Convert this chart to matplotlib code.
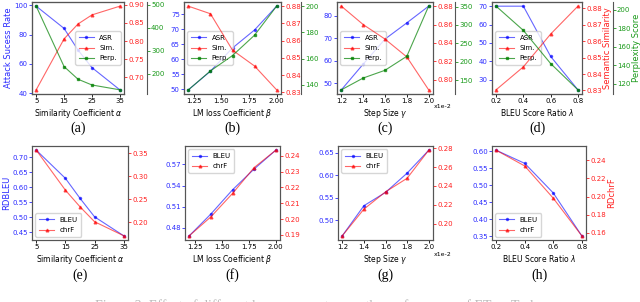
import matplotlib
matplotlib.use("Agg")
import matplotlib.pyplot as plt
from matplotlib.ticker import MultipleLocator

# data
alpha_x = [5, 15, 20, 25, 35]
beta_x = [1.2, 1.4, 1.6, 1.8, 2.0]
gamma_x = [1.2, 1.4, 1.6, 1.8, 2.0]
lam_x = [0.2, 0.4, 0.6, 0.8]

# top row: ASR / Sim. / Perp.
asr_a = [99.5, 84.3, 69.5, 57.5, 42.3]
sim_a = [0.666, 0.806, 0.847, 0.872, 0.896]
perp_a = [494, 232, 177, 152, 131]

asr_b = [49.8, 56.0, 63.7, 69.7, 77.6]
sim_b = [0.880, 0.8756, 0.8545, 0.8453, 0.8315]
perp_b = [136.3, 150.7, 162.4, 177.9, 200.0]

asr_c = [47.1, 58.5, 69.6, 76.8, 84.2]
sim_c = [0.880, 0.860, 0.8442, 0.8248, 0.789]
perp_c = [124, 156, 177, 215, 351]

asr_d = [70.0, 70.0, 42.6, 24.4]
sim_d = [0.8304, 0.8444, 0.8644, 0.8814]
perp_d = [203.6, 177.5, 141.8, 113.5]

# bottom row: BLEU / chrF
bleu_e = [0.7237, 0.630, 0.5637, 0.502, 0.439]
chrf_e = [0.357, 0.270, 0.234, 0.2015, 0.171]

bleu_f = [0.469, 0.4998, 0.534, 0.5634, 0.590]
chrf_f = [0.1894, 0.2014, 0.2162, 0.2326, 0.2436]

bleu_g = [0.466, 0.5324, 0.5618, 0.6044, 0.655]
chrf_g = [0.1872, 0.2154, 0.2337, 0.2481, 0.2778]

bleu_h = [0.6036, 0.565, 0.478, 0.352]
chrf_h = [0.251, 0.2337, 0.1983, 0.157]

W, H = 640, 302
fig = plt.figure(figsize=(W / 100, H / 100), dpi=100)

BLUE = '#2b2bff'
RED = '#ff2020'
GREEN = '#1a9a1a'
TICK = 5
LAB = 5.5


def px_axes(x0, x1, y0, y1):
    return fig.add_axes([x0 / W, 1 - y1 / H, (x1 - x0) / W, (y1 - y0) / H])


def style(ax, color, step):
    ax.tick_params(axis='y', colors=color, labelsize=TICK, length=2, width=0.6, pad=1)
    ax.yaxis.set_major_locator(MultipleLocator(step))
    for s in ax.spines.values():
        s.set_linewidth(0.8)
        s.set_color('#555555')


def top_panel(box, x, asr, sim, perp, xticks, xlabel, steps, offset, cap, legloc,
              ylab_left=None, ylab_right=False):
    ax = px_axes(*box)
    ax.plot(x, asr, color='b', alpha=0.6, marker='.', ms=3, lw=0.8, label='ASR')
    ax2 = ax.twinx()
    ax2.plot(x, sim, color='r', alpha=0.6, marker='^', ms=2, lw=0.8, label='Sim.')
    ax3 = ax.twinx()
    ax3.spines['right'].set_position(('axes', offset))
    ax3.plot(x, perp, color='g', alpha=0.7, marker='s', ms=1.5, lw=0.8, label='Perp.')
    style(ax, BLUE, steps[0])
    style(ax2, RED, steps[1])
    style(ax3, GREEN, steps[2])
    ax.set_xticks(xticks)
    ax.tick_params(axis='x', labelsize=TICK, length=2, width=0.6, pad=1)
    ax.set_xlabel(xlabel, fontsize=LAB, labelpad=2)
    if ylab_left:
        ax.set_ylabel(ylab_left, color=BLUE, fontsize=6, labelpad=1)
    if ylab_right:
        ax2.set_ylabel('Semantic Similarity', color=RED, fontsize=6, labelpad=1)
        ax3.set_ylabel('Perplexity Score', color=GREEN, fontsize=6, labelpad=1)
    lines = ax.get_lines() + ax2.get_lines() + ax3.get_lines()
    ax.legend(lines, [l.get_label() for l in lines], loc=legloc, fontsize=5,
              labelspacing=0.6, handlelength=2.2, borderpad=0.5)
    fig.text((box[0] + box[1]) / 2 / W, 1 - 128 / H, cap, ha='center', va='center',
             family='Liberation Serif', fontsize=10)
    return ax


def bottom_panel(box, x, bleu, chrf, xticks, xlabel, steps, cap, legloc,
                 ylab_left=None, ylab_right=None):
    ax = px_axes(*box)
    ax.plot(x, bleu, color='b', alpha=0.6, marker='.', ms=3, lw=0.8, label='BLEU')
    ax2 = ax.twinx()
    ax2.plot(x, chrf, color='r', alpha=0.6, marker='^', ms=2, lw=0.8, label='chrF')
    style(ax, BLUE, steps[0])
    style(ax2, RED, steps[1])
    ax.set_xticks(xticks)
    ax.tick_params(axis='x', labelsize=TICK, length=2, width=0.6, pad=1)
    ax.set_xlabel(xlabel, fontsize=LAB, labelpad=2)
    if ylab_left:
        ax.set_ylabel(ylab_left, color=BLUE, fontsize=6, labelpad=1)
    if ylab_right:
        ax2.set_ylabel(ylab_right, color=RED, fontsize=6, labelpad=1)
    lines = ax.get_lines() + ax2.get_lines()
    ax.legend(lines, [l.get_label() for l in lines], loc=legloc, fontsize=5,
              labelspacing=0.6, handlelength=2.2, borderpad=0.5)
    fig.text((box[0] + box[1]) / 2 / W, 1 - 275 / H, cap, ha='center', va='center',
             family='Liberation Serif', fontsize=10)
    return ax


top_panel((32, 124, 2, 94), alpha_x, asr_a, sim_a, perp_a, [5, 15, 25, 35],
          r'Similarity Coefficient $\alpha$', (20, 0.05, 100), 1.25, '(a)', 'center right',
          ylab_left='Attack Sucess Rate')
top_panel((184, 281, 2, 94), beta_x, asr_b, sim_b, perp_b, [1.25, 1.5, 1.75, 2.0],
          r'LM loss Coefficient $\beta$', (5, 0.01, 20), 1.21, '(b)', 'center left')
top_panel((337, 433, 2, 94), gamma_x, asr_c, sim_c, perp_c, [1.2, 1.4, 1.6, 1.8, 2.0],
          r'Step Size $\gamma$', (10, 0.02, 50), 1.23, '(c)', 'center left')
top_panel((492, 582, 2, 94), lam_x, asr_d, sim_d, perp_d, [0.2, 0.4, 0.6, 0.8],
          r'BLEU Score Ratio $\lambda$', (10, 0.01, 20), 1.34, '(d)', 'center left',
          ylab_right=True)

bottom_panel((32, 128, 146, 240), alpha_x, bleu_e, chrf_e, [5, 15, 25, 35],
             r'Similarity Coefficient $\alpha$', (0.05, 0.05), '(e)', 'lower left',
             ylab_left='RDBLEU')
bottom_panel((185, 280, 146, 240), beta_x, bleu_f, chrf_f, [1.25, 1.5, 1.75, 2.0],
             r'LM loss Coefficient $\beta$', (0.03, 0.01), '(f)', 'upper left')
bottom_panel((338, 433, 146, 240), gamma_x, bleu_g, chrf_g, [1.2, 1.4, 1.6, 1.8, 2.0],
             r'Step Size $\gamma$', (0.05, 0.02), '(g)', 'upper left')
bottom_panel((492, 586, 146, 240), lam_x, bleu_h, chrf_h, [0.2, 0.4, 0.6, 0.8],
             r'BLEU Score Ratio $\lambda$', (0.05, 0.02), '(h)', 'lower left',
             ylab_right='RDchrF')

fig.text(443 / W, 1 - 107 / H, 'x1e-2', fontsize=4.5, ha='center', va='center')
fig.text(443 / W, 1 - 254 / H, 'x1e-2', fontsize=4.5, ha='center', va='center')

# caption cut off at the bottom of the image
fig.text(0.5, 1 - 306 / H, 'Figure 3: Effect of different hyperparameters on the performance of ETree Tasks.',
         ha='center', va='center', family='Liberation Serif', fontsize=10, color='#bbbbbb')

fig.savefig('out.png', dpi=100)
